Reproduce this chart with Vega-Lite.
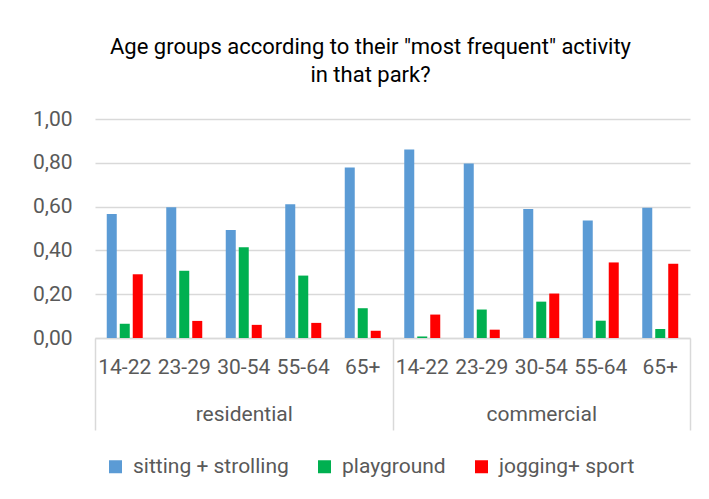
{
  "$schema": "https://vega.github.io/schema/vega-lite/v6.json",
  "width": 595,
  "height": 219,
  "autosize": {"type": "none"},
  "padding": {"left": 95, "top": 119, "right": 19, "bottom": 161},
  "background": "white",
  "config": {
    "font": "Roboto, sans-serif",
    "view": {"stroke": null}
  },
  "title": {
    "text": ["Age groups according to their \"most frequent\" activity", "in that park?"],
    "fontSize": 22,
    "fontWeight": "normal",
    "color": "#000000",
    "anchor": "middle",
    "lineHeight": 28,
    "offset": 21,
    "dx": -22
  },
  "data": {
    "values": [
      {"group": "residential", "age": "14-22", "cat": "residential|14-22", "activity": "sitting + strolling", "value": 0.566},
      {"group": "residential", "age": "14-22", "cat": "residential|14-22", "activity": "playground", "value": 0.065},
      {"group": "residential", "age": "14-22", "cat": "residential|14-22", "activity": "jogging+ sport", "value": 0.291},
      {"group": "residential", "age": "23-29", "cat": "residential|23-29", "activity": "sitting + strolling", "value": 0.597},
      {"group": "residential", "age": "23-29", "cat": "residential|23-29", "activity": "playground", "value": 0.307},
      {"group": "residential", "age": "23-29", "cat": "residential|23-29", "activity": "jogging+ sport", "value": 0.078},
      {"group": "residential", "age": "30-54", "cat": "residential|30-54", "activity": "sitting + strolling", "value": 0.493},
      {"group": "residential", "age": "30-54", "cat": "residential|30-54", "activity": "playground", "value": 0.414},
      {"group": "residential", "age": "30-54", "cat": "residential|30-54", "activity": "jogging+ sport", "value": 0.06},
      {"group": "residential", "age": "55-64", "cat": "residential|55-64", "activity": "sitting + strolling", "value": 0.611},
      {"group": "residential", "age": "55-64", "cat": "residential|55-64", "activity": "playground", "value": 0.285},
      {"group": "residential", "age": "55-64", "cat": "residential|55-64", "activity": "jogging+ sport", "value": 0.069},
      {"group": "residential", "age": "65+", "cat": "residential|65+", "activity": "sitting + strolling", "value": 0.779},
      {"group": "residential", "age": "65+", "cat": "residential|65+", "activity": "playground", "value": 0.136},
      {"group": "residential", "age": "65+", "cat": "residential|65+", "activity": "jogging+ sport", "value": 0.033},
      {"group": "commercial", "age": "14-22", "cat": "commercial|14-22", "activity": "sitting + strolling", "value": 0.861},
      {"group": "commercial", "age": "14-22", "cat": "commercial|14-22", "activity": "playground", "value": 0.007},
      {"group": "commercial", "age": "14-22", "cat": "commercial|14-22", "activity": "jogging+ sport", "value": 0.107},
      {"group": "commercial", "age": "23-29", "cat": "commercial|23-29", "activity": "sitting + strolling", "value": 0.797},
      {"group": "commercial", "age": "23-29", "cat": "commercial|23-29", "activity": "playground", "value": 0.13},
      {"group": "commercial", "age": "23-29", "cat": "commercial|23-29", "activity": "jogging+ sport", "value": 0.038},
      {"group": "commercial", "age": "30-54", "cat": "commercial|30-54", "activity": "sitting + strolling", "value": 0.589},
      {"group": "commercial", "age": "30-54", "cat": "commercial|30-54", "activity": "playground", "value": 0.166},
      {"group": "commercial", "age": "30-54", "cat": "commercial|30-54", "activity": "jogging+ sport", "value": 0.203},
      {"group": "commercial", "age": "55-64", "cat": "commercial|55-64", "activity": "sitting + strolling", "value": 0.537},
      {"group": "commercial", "age": "55-64", "cat": "commercial|55-64", "activity": "playground", "value": 0.079},
      {"group": "commercial", "age": "55-64", "cat": "commercial|55-64", "activity": "jogging+ sport", "value": 0.345},
      {"group": "commercial", "age": "65+", "cat": "commercial|65+", "activity": "sitting + strolling", "value": 0.595},
      {"group": "commercial", "age": "65+", "cat": "commercial|65+", "activity": "playground", "value": 0.041},
      {"group": "commercial", "age": "65+", "cat": "commercial|65+", "activity": "jogging+ sport", "value": 0.339}
    ]
  },
  "layer": [
    {
      "mark": {"type": "bar"},
      "encoding": {
        "x": {
          "field": "cat",
          "type": "nominal",
          "sort": ["residential|14-22", "residential|23-29", "residential|30-54", "residential|55-64", "residential|65+", "commercial|14-22", "commercial|23-29", "commercial|30-54", "commercial|55-64", "commercial|65+"],
          "scale": {"paddingInner": 0.395, "paddingOuter": 0.1975},
          "axis": {
            "orient": "bottom",
            "title": null,
            "labelAngle": 0,
            "labelExpr": "split(datum.value, '|')[1]",
            "labelFontSize": 21,
            "labelColor": "#595959",
            "labelPadding": 18,
            "labelOverlap": false,
            "ticks": false,
            "tickSize": 0,
            "domain": true,
            "domainColor": "#D9D9D9",
            "domainWidth": 1.5,
            "grid": false
          }
        },
        "xOffset": {
          "field": "activity",
          "type": "nominal",
          "sort": ["sitting + strolling", "playground", "jogging+ sport"],
          "scale": {"paddingInner": 0.23}
        },
        "y": {
          "field": "value",
          "type": "quantitative",
          "scale": {"domain": [0, 1]},
          "axis": {
            "title": null,
            "values": [0, 0.2, 0.4, 0.6, 0.8, 1],
            "labelExpr": "replace(format(datum.value, '.2f'), '.', ',')",
            "labelFontSize": 21,
            "labelColor": "#595959",
            "labelPadding": 23,
            "domain": false,
            "ticks": false,
            "gridColor": "#D9D9D9",
            "gridWidth": 1.5
          }
        },
        "color": {
          "field": "activity",
          "type": "nominal",
          "sort": ["sitting + strolling", "playground", "jogging+ sport"],
          "scale": {
            "domain": ["sitting + strolling", "playground", "jogging+ sport"],
            "range": ["#5B9BD5", "#00B050", "#FF0000"]
          },
          "legend": {
            "orient": "none",
            "direction": "horizontal",
            "legendX": 10,
            "legendY": 337,
            "title": null,
            "symbolType": "square",
            "symbolSize": 169,
            "symbolStrokeWidth": 0,
            "labelFontSize": 21,
            "labelColor": "#595959",
            "labelOffset": 7,
            "labelLimit": 0,
            "columnPadding": 25
          }
        }
      }
    },
    {
      "mark": {"type": "bar", "opacity": 0},
      "encoding": {
        "x": {
          "field": "group",
          "type": "nominal",
          "sort": ["residential", "commercial"],
          "scale": {"type": "band", "paddingInner": 0, "paddingOuter": 0},
          "axis": {
            "orient": "bottom",
            "title": null,
            "labelAngle": 0,
            "labelFontSize": 21,
            "labelColor": "#595959",
            "labelPadding": -27,
            "domain": false,
            "ticks": true,
            "tickBand": "extent",
            "tickSize": 92,
            "tickColor": "#D9D9D9",
            "tickWidth": 1.5,
            "grid": false
          }
        }
      }
    }
  ],
  "resolve": {"scale": {"x": "independent"}, "axis": {"x": "independent"}}
}
